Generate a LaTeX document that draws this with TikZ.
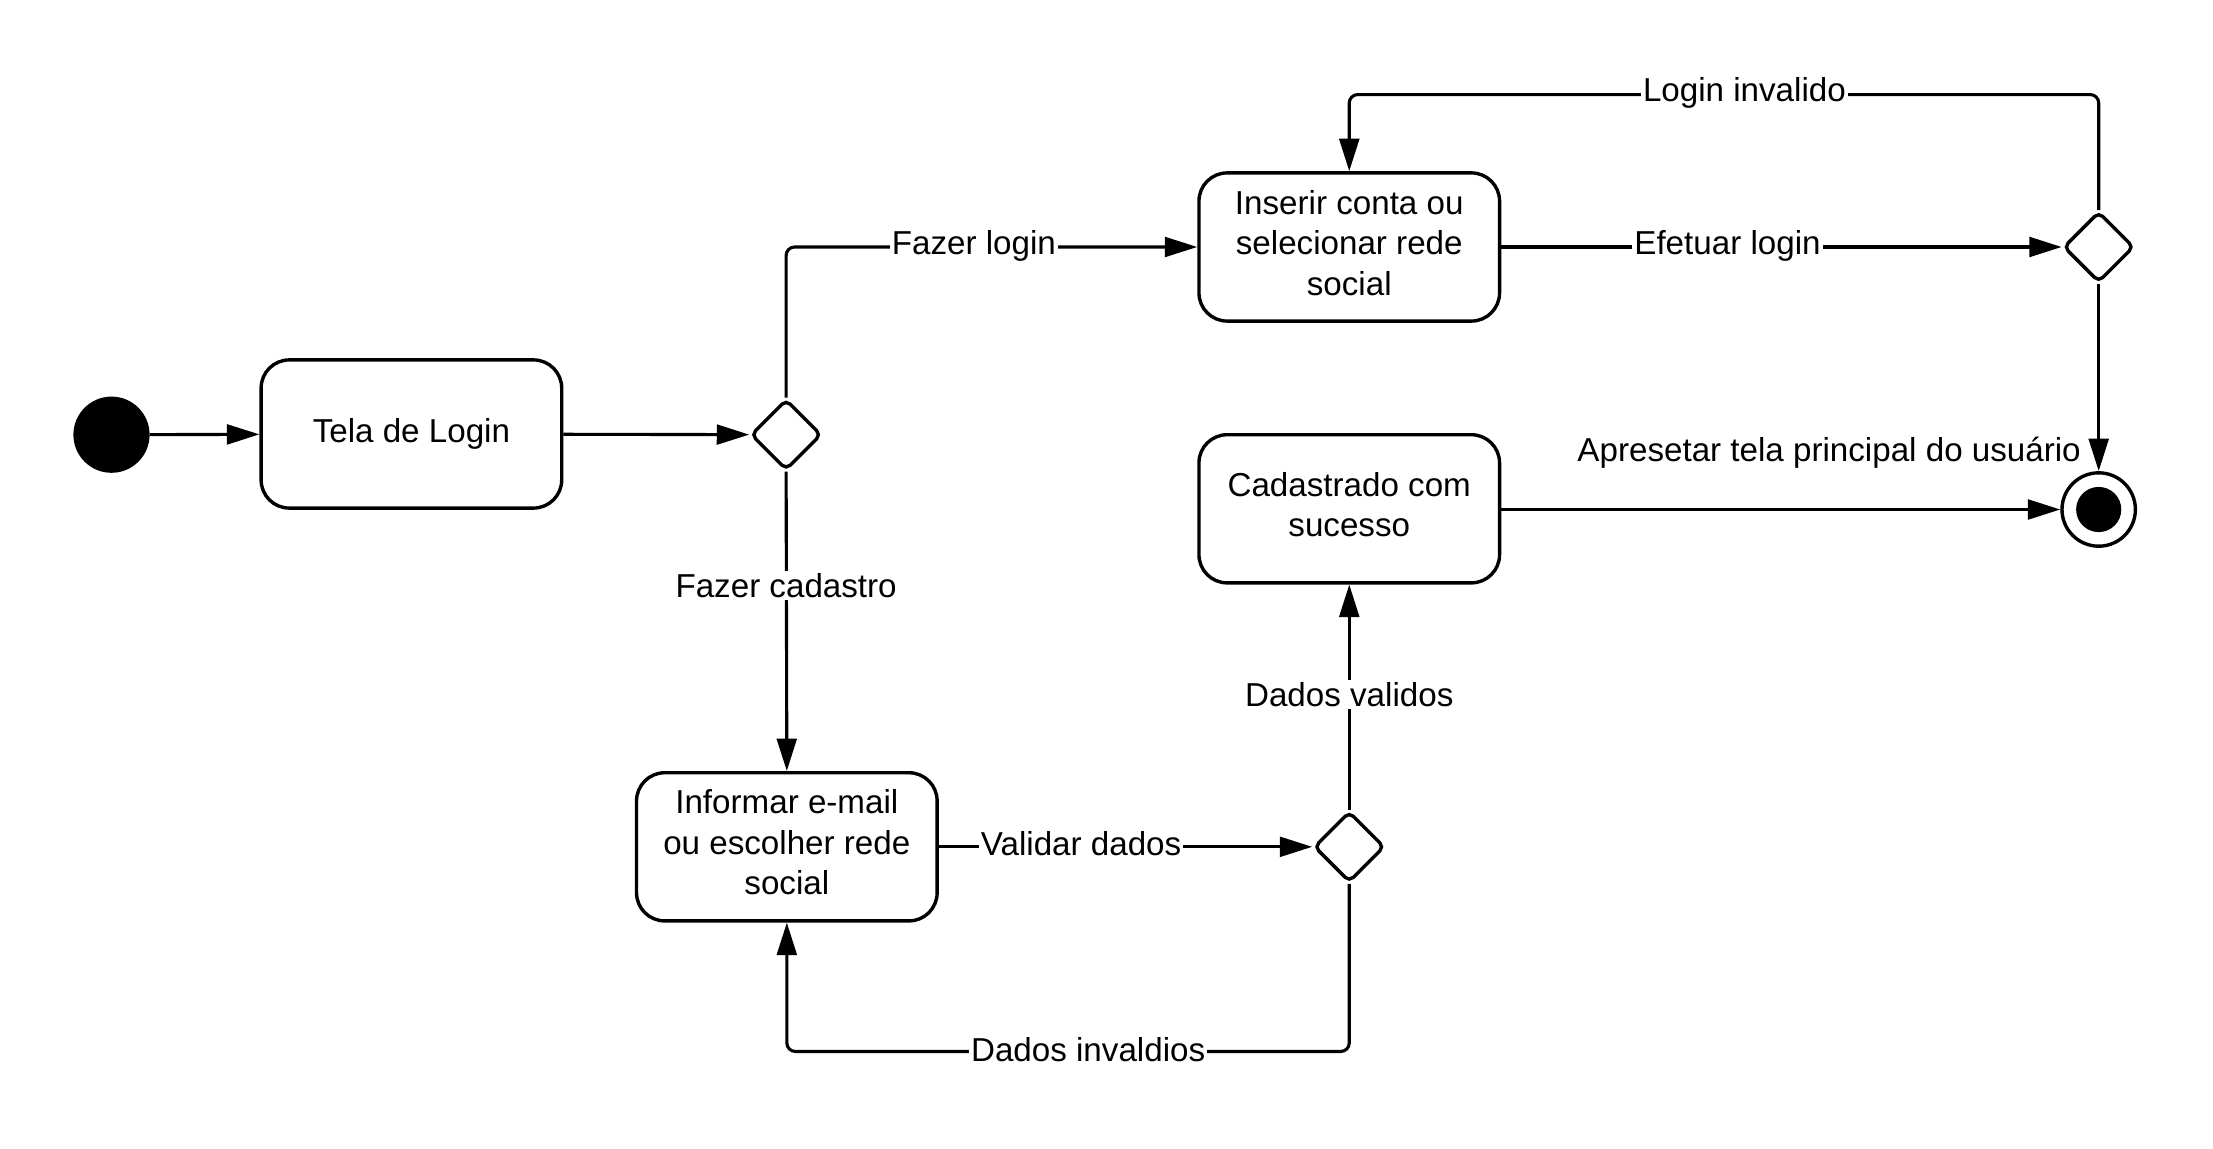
\documentclass[tikz,border=0pt]{standalone}
\usepackage{fontspec}
\setmainfont{Liberation Sans}
\usetikzlibrary{shapes.geometric,arrows.meta}
\begin{document}
\begin{tikzpicture}[x=1pt,y=-1pt,
  state/.style={draw, line width=2.4pt, rounded corners=20pt, minimum width=213pt, minimum height=105pt, align=center, font=\fontsize{23.5}{28.7}\selectfont, inner sep=0pt},
  multi/.style={text depth=6.2pt},
  dec/.style={draw, diamond, line width=2.4pt, rounded corners=4pt, minimum width=50pt, minimum height=50pt, inner sep=0pt, fill=white},
  conn/.style={line width=2.2pt, -{Triangle[length=23pt,width=14pt]}, rounded corners=6pt},
  lbl/.style={fill=white, inner sep=1.5pt, font=\fontsize{23.5}{28.7}\selectfont}]
\fill[white] (0,0) rectangle (1568,814);
\useasboundingbox (0,0) rectangle (1568,814);
% nodes
\node[circle, fill=black, minimum size=54pt, inner sep=0pt] (start) at (79,308) {};
\node[state] (tela) at (291.5,307.5) {Tela de Login};
\node[dec] (d1) at (557,308) {};
\node[state, multi] (inserir) at (956,175) {Inserir conta ou\\selecionar rede\\social};
\node[dec] (d2) at (1487,175) {};
\node[circle, draw, line width=2.4pt, fill=white, minimum size=52pt, inner sep=0pt] (final) at (1487,361) {};
\node[circle, fill=black, minimum size=32pt, inner sep=0pt] (finalin) at (1487,361) {};
\node[state, multi] (cad) at (956,360.5) {Cadastrado com\\sucesso};
\node[state, multi] (informar) at (557.5,600) {Informar e-mail\\ou escolher rede\\social};
\node[dec] (d3) at (956,600) {};
\coordinate (li) at (1487,67);
\coordinate (di) at (956,745);
% connectors
\draw[conn] (start) -- (tela);
\draw[conn] (tela) -- (d1);
\draw[conn] (d1.north) |- (inserir.west);
\draw[conn] (d1.south) -- (informar.north);
\draw[conn] (inserir) -- (d2);
\draw[conn] (d2.north) -- (li) -| (inserir.north);
\draw[conn] (d2.south) -- (final.north);
\draw[conn] (cad.east |- final.west) -- (final.west);
\draw[conn] (informar) -- (d3);
\draw[conn] (d3.north) -- (cad.south);
\draw[conn] (d3.south) -- (di) -| (informar.south);
% labels
\node[lbl] (l1) at (690,174) {Fazer login};
\node[lbl] (l2) at (557,415) {Fazer cadastro};
\node[lbl] (l3) at (1224,174) {Efetuar login};
\node[lbl] (l4) at (1236,66) {Login invalido};
\node[lbl, fill=none] (l5) at (1296,321) {Apresetar tela principal do usuário};
\node[lbl] (l6) at (766,598) {Validar dados};
\node[lbl] (l7) at (956,492) {Dados validos};
\node[lbl] (l8) at (771,744) {Dados invaldios};
\end{tikzpicture}
\end{document}
